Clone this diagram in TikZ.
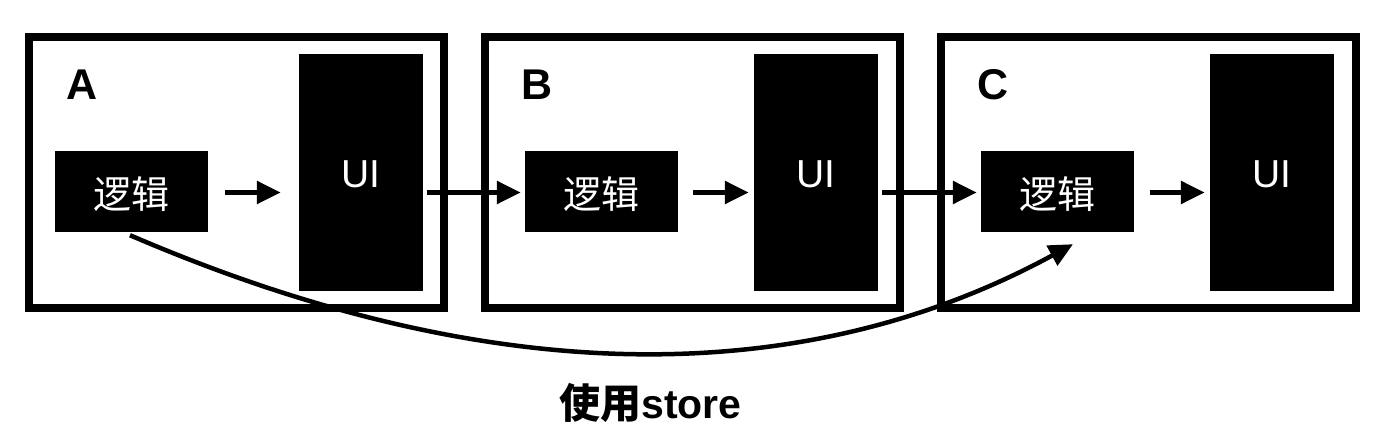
\documentclass[tikz,border=0pt]{standalone}
\usepackage{fontspec}
\setmainfont{Liberation Sans}
\newfontfamily\cjk{Noto Sans CJK SC}
\usetikzlibrary{arrows.meta}
\tikzset{
  frame/.style={draw=black, line width=8pt, minimum width=415pt, minimum height=270.5pt, inner sep=0pt},
  logicbox/.style={fill=black, minimum width=153pt, minimum height=81pt, inner sep=0pt, text=white,
    text height=34pt, text depth=0pt, font=\cjk\fontsize{38}{38}\selectfont},
  uibox/.style={fill=black, minimum width=124pt, minimum height=237pt, inner sep=0pt, text=white,
    text height=31pt, text depth=0pt, font=\fontsize{39}{39}\selectfont},
  letter/.style={inner sep=0pt, anchor=base, font=\bfseries\fontsize{43}{43}\selectfont},
  arr/.style={line width=5.5pt, -{Triangle[length=24pt,width=22pt]}},
  curvearr/.style={line width=4.5pt, -{Triangle[length=24pt,width=22pt]}}
}
\begin{document}
\begin{tikzpicture}[x=1pt,y=-1pt]
\useasboundingbox (0,0) rectangle (1383,435);
% frames
\node[frame] (fa) at (236.5,172.75) {};
\node[frame] (fb) at (692,172.75) {};
\node[frame] (fc) at (1148,172.75) {};
% letters
\node[letter] (ta) at (82,100) {A};
\node[letter] (tb) at (537,100) {B};
\node[letter] (tc) at (993,100) {C};
% logic boxes
\node[logicbox] (la) at (131.5,191.5) {逻辑};
\node[logicbox] (lb) at (601.5,191.5) {逻辑};
\node[logicbox] (lc) at (1057.5,191.5) {逻辑};
% UI boxes
\node[uibox] (ua) at (361,172.5) {UI};
\node[uibox] (ub) at (816,172.5) {UI};
\node[uibox] (uc) at (1272,172.5) {UI};
% arrows inside
\draw[arr] ([xshift=17pt,yshift=-1pt]la.east) -- ([xshift=-18pt,yshift=-1pt]la.east -| ua.west);
\draw[arr] ([xshift=15pt,yshift=-1pt]lb.east) -- ([xshift=-5pt,yshift=-1pt]lb.east -| ub.west);
\draw[arr] ([xshift=16pt,yshift=-1pt]lc.east) -- ([xshift=-5pt,yshift=-1pt]lc.east -| uc.west);
% arrows between
\draw[arr] ([xshift=4pt,yshift=-1pt]lb.west -| ua.east) -- ([xshift=-4pt,yshift=-1pt]lb.west);
\draw[arr] ([xshift=4pt,yshift=-1pt]lc.west -| ub.east) -- ([xshift=-4pt,yshift=-1pt]lc.west);
% store curve
\coordinate (tip) at ([xshift=15.5pt,yshift=-12pt]lc.south);
\draw[curvearr] ([xshift=-1.5pt,yshift=-3pt]la.south) .. controls (487,389) and (801,392) .. (tip);
% caption
\node[inner sep=0pt, anchor=base, font=\fontsize{41}{41}\selectfont] (cap) at (650.5,418) {{\cjk\bfseries 使用}{\bfseries store}};
\end{tikzpicture}
\end{document}
